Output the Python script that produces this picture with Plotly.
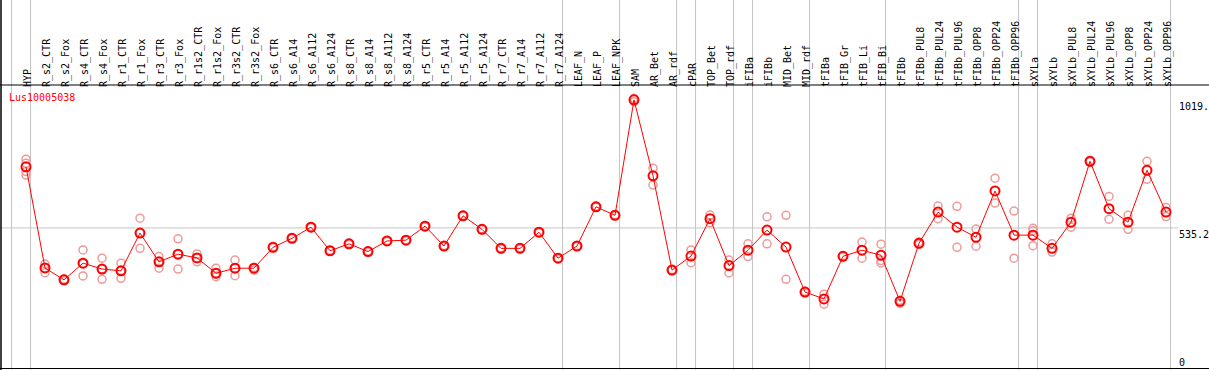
import plotly.graph_objects as go

title = "Lus10005038"

categories = [
    "HYP", "R_s2_CTR", "R_s2_Fox", "R_s4_CTR", "R_s4_Fox", "R_r1_CTR", "R_r1_Fox",
    "R_r3_CTR", "R_r3_Fox", "R_r1s2_CTR", "R_r1s2_Fox", "R_r3s2_CTR", "R_r3s2_Fox",
    "R_s6_CTR", "R_s6_A14", "R_s6_A112", "R_s6_A124", "R_s8_CTR", "R_s8_A14",
    "R_s8_A112", "R_s8_A124", "R_r5_CTR", "R_r5_A14", "R_r5_A112", "R_r5_A124",
    "R_r7_CTR", "R_r7_A14", "R_r7_A112", "R_r7_A124", "LEAF_N", "LEAF_P", "LEAF_NPK",
    "SAM", "AR_Bet", "AR_rdf", "cPAR", "TOP_Bet", "TOP_rdf", "iFIBa", "iFIBb",
    "MID_Bet", "MID_rdf", "tFIBa", "tFIB_Gr", "tFIB_Li", "tFIB_Bi", "tFIBb",
    "tFIBb_PUL8", "tFIBb_PUL24", "tFIBb_PUL96", "tFIBb_OPP8", "tFIBb_OPP24",
    "tFIBb_OPP96", "sXYLa", "sXYLb", "sXYLb_PUL8", "sXYLb_PUL24", "sXYLb_PUL96",
    "sXYLb_OPP8", "sXYLb_OPP24", "sXYLb_OPP96",
]

mean_values = [
    766, 384, 339, 402, 380, 373, 516, 407, 436, 422, 364, 383, 383,
    462, 496, 538, 449, 475, 446, 486, 489, 542, 467, 581, 530,
    458, 458, 519, 421, 467, 615, 583,
    1019, 732, 376, 429, 570, 393, 451, 527,
    463, 293, 267, 428, 451, 432, 258,
    477, 595, 538, 500, 675,
    508, 508, 458, 557, 787, 608,
    557, 753, 595,
]

replicate_values = [
    [795, 780, 748, 735], [399, 384, 366], [342, 336], [452, 401, 354], [421, 380, 341],
    [402, 373, 345], [572, 516, 458], [427, 407, 383], [494, 436, 380], [437, 422, 407],
    [383, 364, 351], [414, 383, 355], [386, 376],
    [464, 460], [498, 494], [540, 536], [451, 447], [477, 473], [448, 444], [488, 484],
    [491, 487], [544, 540], [469, 465], [583, 579], [532, 528], [460, 456], [460, 456],
    [521, 517], [423, 419], [469, 465], [617, 613], [585, 581],
    [1025, 1012], [761, 697], [378, 374], [452, 404], [584, 555], [414, 365],
    [475, 427], [577, 475], [583, 341], [296, 290], [285, 247], [430, 426],
    [482, 421], [474, 412, 403], [262, 250],
    [482, 474], [618, 570], [617, 462], [531, 466], [723, 629],
    [599, 421], [534, 525, 468], [475, 444], [572, 538], [790, 784], [654, 568],
    [583, 530], [787, 719], [612, 578],
]

y_tick_values = [1019, 535.2, 0]
y_tick_labels = ["1019.", "535.2", "0"]
mean_line_value = 535.2

group_ends = ["HYP", "R_r7_A124", "LEAF_NPK", "AR_rdf", "cPAR", "TOP_rdf", "iFIBa",
              "MID_rdf", "tFIB_Bi", "tFIBb_OPP96", "sXYLa", "sXYLb_OPP96"]

W, H = 1209, 370
plot_top_px = 85
x_idx = list(range(len(categories)))

rep_x, rep_y = [], []
for i, reps in enumerate(replicate_values):
    for v in reps:
        rep_x.append(i)
        rep_y.append(v)

FONT = "DejaVu Sans Mono"

fig = go.Figure()
fig.add_trace(go.Scatter(
    x=rep_x, y=rep_y, mode="markers", hoverinfo="skip",
    marker=dict(symbol="circle-open", size=8, color="#EE9A9A", line=dict(width=1.5, color="#EE9A9A")),
))
fig.add_trace(go.Scatter(
    x=x_idx, y=mean_values, mode="lines+markers",
    line=dict(color="#FF0000", width=1),
    marker=dict(symbol="circle-open", size=9, color="#FF0000", line=dict(width=2, color="#FF0000")),
))
# invisible trace to carry the label axis
fig.add_trace(go.Scatter(x=x_idx, y=mean_values, mode="markers", xaxis="x2", yaxis="y",
                         marker=dict(opacity=0), hoverinfo="skip"))

shapes = []
sep_positions = [-1] + [categories.index(c) for c in group_ends]
for p in sep_positions:
    shapes.append(dict(type="line", xref="x", yref="paper", x0=p + 0.24, x1=p + 0.24, y0=0, y1=1,
                       line=dict(color="#C4C4C4", width=1), layer="below"))
shapes.append(dict(type="line", xref="paper", yref="y", x0=0, x1=1178 / W, y0=mean_line_value, y1=mean_line_value,
                   line=dict(color="#C4C4C4", width=1), layer="below"))
# frame lines
shapes.append(dict(type="line", xref="paper", yref="paper", x0=0, x1=1, y0=1 - plot_top_px / H, y1=1 - plot_top_px / H,
                   line=dict(color="black", width=1.2)))
shapes.append(dict(type="line", xref="paper", yref="paper", x0=1 / W, x1=1 / W, y0=0, y1=1,
                   line=dict(color="black", width=1.5)))
shapes.append(dict(type="line", xref="paper", yref="paper", x0=0, x1=1, y0=1.5 / H, y1=1.5 / H,
                   line=dict(color="black", width=1.2)))

annotations = [dict(text=title, xref="paper", yref="paper", x=7 / W, y=1 - 97 / H, xanchor="left", yanchor="middle",
                    showarrow=False, font=dict(family=FONT, size=10, color="#FF0000"))]
for v, t in zip(y_tick_values, y_tick_labels):
    if v == 0:
        annotations.append(dict(text=t, xref="paper", yref="y", x=1177 / W, y=v, xanchor="left", yanchor="bottom",
                                yshift=0, showarrow=False, font=dict(family=FONT, size=10, color="black")))
    else:
        annotations.append(dict(text=t, xref="paper", yref="y", x=1177 / W, y=v, xanchor="left", yanchor="top",
                                yshift=1, showarrow=False, font=dict(family=FONT, size=10, color="black")))

px_per_cat = 19.0
first_px = 26.0
label_shift_px = 2.0
x_range = [-first_px / px_per_cat, (W - first_px) / px_per_cat]
fig.update_layout(
    width=W, height=H, autosize=False,
    margin=dict(l=0, r=0, t=0, b=0, pad=0),
    paper_bgcolor="white", plot_bgcolor="white",
    showlegend=False,
    shapes=shapes, annotations=annotations,
    xaxis=dict(
        range=x_range, showticklabels=False, ticks="",
        showgrid=False, zeroline=False, showline=False, automargin=False,
    ),
    xaxis2=dict(
        overlaying="x", anchor="y",
        range=[r - label_shift_px / px_per_cat for r in x_range],
        tickmode="array", tickvals=x_idx, ticktext=categories,
        side="top", tickangle=-90, ticks="", ticklabelstandoff=-3,
        showgrid=False, zeroline=False, showline=False,
        tickfont=dict(family=FONT, size=10, color="black"), automargin=False,
    ),
    yaxis=dict(
        domain=[0, 1 - plot_top_px / H],
        range=[-1.5, (369.6 - plot_top_px) / 0.2646 - 0.4],
        showticklabels=False, showgrid=False, zeroline=False, showline=False, ticks="",
        automargin=False,
    ),
)

fig.write_html(
    "out.html",
    config={"displayModeBar": False},
    post_script="document.body.style.margin='0';document.body.style.padding='0';document.body.style.overflow='hidden';",
)
